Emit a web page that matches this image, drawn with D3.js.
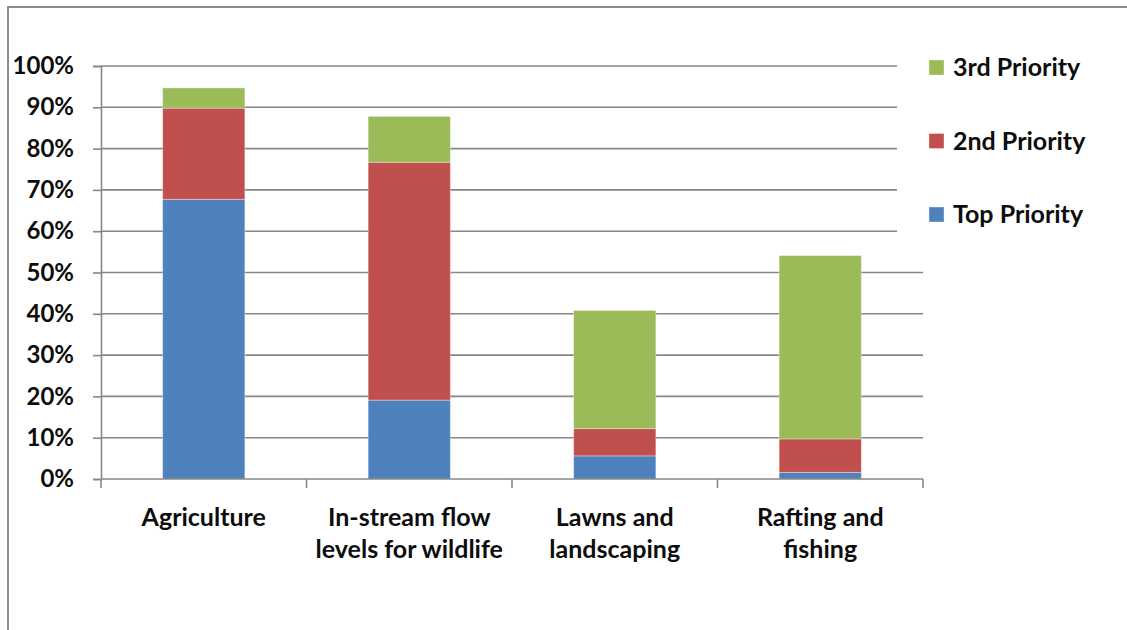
<!DOCTYPE html>
<html>
<head>
<meta charset="utf-8">
<script src="https://cdn.jsdelivr.net/npm/d3@7"></script>
<style>
  body { margin: 0; background: #fff; }
  svg text { font-family: Lato, "Open Sans", sans-serif; font-weight: bold; fill: #0d0d0d; }
</style>
</head>
<body>
<div id="chart"></div>
<script>
// chart values (percent)
var categories = ["Agriculture", "In-stream flow levels for wildlife", "Lawns and landscaping", "Rafting and fishing"];
var categoryLines = [["Agriculture"], ["In-stream flow", "levels for wildlife"], ["Lawns and", "landscaping"], ["Rafting and", "fishing"]];
var topPriority = [67.7, 19.1, 5.6, 1.6];
var secondPriority = [22.1, 57.6, 6.6, 8.1];
var thirdPriority = [4.9, 11.1, 28.6, 44.4];
var seriesNames = ["Top Priority", "2nd Priority", "3rd Priority"];
var yTicks = [0, 10, 20, 30, 40, 50, 60, 70, 80, 90, 100];

var colors = {
  "Top Priority": "#4f81bd",
  "2nd Priority": "#c0504d",
  "3rd Priority": "#9bbb59"
};

var width = 1127,
  height = 630;
var plot = { left: 101, right: 923, top: 66, bottom: 479 };
var gridColor = "#878787";

var rows = categories.map(function(c, i) {
  return {
    category: c,
    "Top Priority": topPriority[i],
    "2nd Priority": secondPriority[i],
    "3rd Priority": thirdPriority[i]
  };
});

var svg = d3
  .select("#chart")
  .append("svg")
  .attr("width", width)
  .attr("height", height);

// outer frame (left and top edges only are visible)
svg
  .append("path")
  .attr("d", "M8,630 V7 H1127")
  .attr("fill", "none")
  .attr("stroke", "#8c8c8c")
  .attr("stroke-width", 2);

var x = d3
  .scaleBand()
  .domain(categories)
  .range([plot.left, plot.right])
  .padding(0);

var y = d3
  .scaleLinear()
  .domain([0, 100])
  .range([plot.bottom, plot.top]);

var barWidth = x.bandwidth() * 0.4;

// gridlines
svg
  .append("g")
  .attr("class", "grid")
  .selectAll("line")
  .data(yTicks.slice(1))
  .enter()
  .append("line")
  .attr("x1", plot.left)
  .attr("x2", plot.right)
  .attr("y1", function(d) { return y(d); })
  .attr("y2", function(d) { return y(d); })
  .attr("stroke", gridColor)
  .attr("stroke-width", 1.6);

// y axis
var yAxis = d3
  .axisLeft(y)
  .tickValues(yTicks)
  .tickSize(8)
  .tickPadding(19)
  .tickFormat(function(d) { return d + "%"; });

var yG = svg
  .append("g")
  .attr("transform", "translate(" + plot.left + ",0)")
  .call(yAxis);
yG.select(".domain").attr("stroke", gridColor).attr("stroke-width", 1.6);
yG.selectAll(".tick line").attr("stroke", gridColor).attr("stroke-width", 1.6);
yG.selectAll(".tick text")
  .attr("font-size", 24)
  .attr("fill", "#0d0d0d")
  .style("font-family", "Lato, sans-serif")
  .style("font-weight", "bold");

// stacked bars
var stack = d3.stack().keys(seriesNames);
var layers = stack(rows);

svg
  .append("g")
  .attr("class", "bars")
  .selectAll("g")
  .data(layers)
  .enter()
  .append("g")
  .attr("fill", function(d) { return colors[d.key]; })
  .selectAll("rect")
  .data(function(d) { return d; })
  .enter()
  .append("rect")
  .attr("x", function(d) { return x(d.data.category) + (x.bandwidth() - barWidth) / 2; })
  .attr("width", barWidth)
  .attr("y", function(d) { return y(d[1]); })
  .attr("height", function(d) { return y(d[0]) - y(d[1]); })
  .attr("stroke", "rgba(255,255,255,0.35)")
  .attr("stroke-width", 1);

// x axis line and category boundary ticks
var xG = svg.append("g").attr("class", "x-axis");
xG.append("line")
  .attr("x1", plot.left)
  .attr("x2", plot.right)
  .attr("y1", plot.bottom)
  .attr("y2", plot.bottom)
  .attr("stroke", gridColor)
  .attr("stroke-width", 1.6);

var boundaries = categories.map(function(c) { return x(c); }).concat([plot.right]);
xG.selectAll("line.tick")
  .data(boundaries)
  .enter()
  .append("line")
  .attr("class", "tick")
  .attr("x1", function(d) { return d; })
  .attr("x2", function(d) { return d; })
  .attr("y1", plot.bottom)
  .attr("y2", plot.bottom + 9)
  .attr("stroke", gridColor)
  .attr("stroke-width", 1.6);

xG.selectAll("text")
  .data(categories)
  .enter()
  .append("text")
  .attr("text-anchor", "middle")
  .attr("font-size", 25)
  .attr("y", 526)
  .each(function(d, i) {
    var t = d3.select(this);
    categoryLines[i].forEach(function(line, j) {
      t.append("tspan")
        .attr("x", x(d) + x.bandwidth() / 2)
        .attr("dy", j === 0 ? 0 : 32)
        .text(line);
    });
  });

// legend (white box hides the gridline ends behind it)
var legend = svg.append("g").attr("class", "legend");
legend
  .append("rect")
  .attr("x", 897)
  .attr("y", 20)
  .attr("width", 225)
  .attr("height", 232)
  .attr("fill", "#fff");

var legendOrder = ["3rd Priority", "2nd Priority", "Top Priority"];
var legendY = d3.scalePoint().domain(legendOrder).range([67.5, 214.5]);

var items = legend
  .selectAll("g.item")
  .data(legendOrder)
  .enter()
  .append("g")
  .attr("class", "item")
  .attr("transform", function(d) { return "translate(929," + legendY(d) + ")"; });

items
  .append("rect")
  .attr("x", 0)
  .attr("y", -7.5)
  .attr("width", 15)
  .attr("height", 15)
  .attr("fill", function(d) { return colors[d]; })
  .attr("stroke", "rgba(255,255,255,0.35)");

items
  .append("text")
  .attr("x", 24)
  .attr("dy", "0.35em")
  .attr("font-size", 25)
  .text(function(d) { return d; });
</script>
</body>
</html>
